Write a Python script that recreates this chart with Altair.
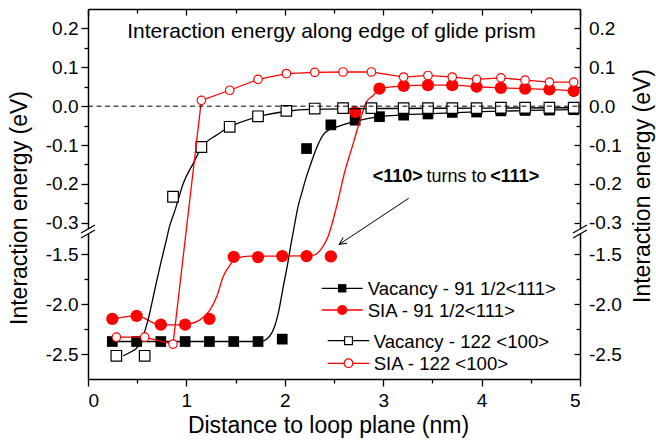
import altair as alt
import pandas as pd

# ---------------- data ----------------
x_91 = [0.247, 0.494, 0.740, 0.987, 1.234, 1.481, 1.728, 1.974, 2.221, 2.468,
        2.715, 2.962, 3.208, 3.455, 3.702, 3.949, 4.196, 4.442, 4.689, 4.936]
vac_91 = [-2.374, -2.374, -2.374, -2.374, -2.374, -2.374, -2.374, -2.350, -0.109, -0.048,
          -0.036, -0.027, -0.023, -0.020, -0.016, -0.015, -0.012, -0.011, -0.010, -0.009]
sia_91 = [-2.147, -2.117, -2.205, -2.205, -2.147, -1.524, -1.527, -1.517, -1.517, -1.520,
          -0.015, 0.045, 0.052, 0.054, 0.054, 0.050, 0.047, 0.045, 0.043, 0.039]

x_122 = [0.288, 0.576, 0.864, 1.152, 1.440, 1.728, 2.016, 2.304, 2.592, 2.880,
         3.208, 3.455, 3.702, 3.949, 4.196, 4.442, 4.689, 4.936]
vac_122 = [-2.517, -2.517, -0.233, -0.105, -0.053, -0.026, -0.012, -0.006, -0.005, -0.005,
           -0.005, -0.005, -0.005, -0.005, -0.004, -0.004, -0.004, -0.004]
sia_122 = [-2.330, -2.330, -2.400, 0.015, 0.041, 0.069, 0.084, 0.087, 0.088, 0.088,
           0.075, 0.079, 0.075, 0.069, 0.073, 0.067, 0.062, 0.062]

# fitted guide curves
fit_vac91_x = [0.247, 0.800, 1.300, 1.700, 1.770, 1.867, 1.934, 1.985, 2.030, 2.063,
               2.099, 2.134, 2.175, 2.215, 2.270, 2.327, 2.390, 2.459, 2.530, 2.700,
               2.962, 3.500, 4.000, 4.500, 4.936]
fit_vac91_v = [-2.374, -2.374, -2.374, -2.374, -2.370, -2.290, -2.090, -1.820, -1.590, -1.397,
               -0.305, -0.259, -0.221, -0.185, -0.144, -0.105, -0.074, -0.059, -0.053, -0.040,
               -0.027, -0.019, -0.014, -0.011, -0.009]

fit_vac122_x = [0.356, 0.424, 0.508, 0.559, 0.610, 0.678, 0.739, 0.796, 0.828, 0.884,
                0.969, 1.070, 1.155, 1.308, 1.443, 1.731, 2.019, 2.256, 3.000, 4.000, 4.936]
fit_vac122_v = [-2.517, -2.484, -2.424, -2.324, -2.157, -1.857, -1.590, -1.357, -0.310, -0.268,
                -0.198, -0.147, -0.106, -0.074, -0.053, -0.027, -0.013, -0.008, -0.006, -0.005, -0.004]

fit_sia91_x = [0.254, 0.490, 0.739, 0.989, 1.037, 1.138, 1.240, 1.308, 1.375, 1.443,
               1.510, 1.650, 2.000, 2.290, 2.375, 2.440, 2.530, 2.610, 2.700, 2.760,
               2.830, 2.900, 2.962, 3.208, 3.455, 3.702, 3.949, 4.196, 4.442, 4.689, 4.936]
fit_sia91_v = [-2.150, -2.117, -2.207, -2.207, -2.197, -2.157, -2.057, -1.924, -1.720, -1.607,
               -1.540, -1.517, -1.517, -1.507, -1.440, -1.320, -0.254, -0.168, -0.092, -0.040,
               0.011, 0.028, 0.045, 0.052, 0.054, 0.054, 0.050, 0.047, 0.045, 0.043, 0.039]

# axis ticks
x_major = [0, 1, 2, 3, 4, 5]
x_minor = [0.5, 1.5, 2.5, 3.5, 4.5]
y_major = [0.2, 0.1, 0.0, -0.1, -0.2, -0.3, -1.5, -2.0, -2.5]
y_major_labels = ["0.2", "0.1", "0.0", "-0.1", "-0.2", "-0.3", "-1.5", "-2.0", "-2.5"]
y_minor = [0.15, 0.05, -0.05, -0.15, -0.25, -1.75, -2.25]

title_text = "Interaction energy along edge of glide prism"
y_title = "Interaction energy (eV)"
x_title = "Distance to loop plane (nm)"
legend_labels = ["Vacancy - 91 1/2<111>", "SIA - 91 1/2<111>",
                 "Vacancy - 122 <100>", "SIA - 122 <100>"]

# ---------------- broken y axis mapping ----------------
TOP_CUT = -0.33
BOT_CUT = -1.30
LOWER_RATIO = 0.2564
Y_MIN, Y_MAX = -2.75, 0.25


def disp(v):
    return v if v >= TOP_CUT else TOP_CUT - (BOT_CUT - v) * LOWER_RATIO


W, H = 492, 370
FONT = "Liberation Sans"
RED = "#ff0000"
BLACK = "#000000"

xsc = alt.Scale(domain=[0, 5], nice=False, zero=False)
ysc = alt.Scale(domain=[disp(Y_MIN), Y_MAX], nice=False, zero=False)


def frame(xs, vs):
    return pd.DataFrame({"x": xs, "v": vs, "d": [disp(v) for v in vs]})


def enc_xy():
    return dict(x=alt.X("x:Q", scale=xsc, axis=None),
                y=alt.Y("d:Q", scale=ysc, axis=None))


def curve(xs, vs, color, interp):
    return alt.Chart(frame(xs, vs)).mark_line(
        color=color, strokeWidth=1.3, interpolate=interp).encode(**enc_xy())


def pts(xs, vs, shape, size, fill, stroke, sw):
    return alt.Chart(frame(xs, vs)).mark_point(
        shape=shape, size=size, filled=True, fill=fill, stroke=stroke,
        strokeWidth=sw, opacity=1).encode(**enc_xy())


def label_expr(vals, labels):
    expr = "''"
    for v, lab in zip(reversed(vals), reversed(labels)):
        expr = f"abs(datum.value - ({disp(v):.6f})) < 0.0005 ? '{lab}' : " + expr
    return expr


ymaj = [round(disp(v), 6) for v in y_major]
ymin = [round(disp(v), 6) for v in y_minor]

carrier_df = pd.DataFrame({"x": [0, 5], "d": [disp(Y_MIN), Y_MAX]})


def carrier(xaxis, yaxis):
    return alt.Chart(carrier_df).mark_point(opacity=0).encode(
        x=alt.X("x:Q", scale=xsc, axis=xaxis),
        y=alt.Y("d:Q", scale=ysc, axis=yaxis))


common = dict(grid=False, tickColor=BLACK, tickWidth=1.3, domainColor=BLACK,
              domainWidth=1.5, labelFont=FONT, labelColor=BLACK, titleFont=FONT,
              titleColor=BLACK, titleFontWeight="normal")

LBL = 19
TTL = 23

ax_bottom = alt.Axis(orient="bottom", values=x_major, format="d", tickSize=7,
                     labelPadding=5, labelFontSize=LBL, domain=True, title=x_title,
                     titleFontSize=TTL, titleX=240, titleY=53.7, titleAlign="center",
                     titleBaseline="alphabetic", **common)
ax_bottom_minor = alt.Axis(orient="bottom", values=x_minor, tickSize=4, labels=False,
                           domain=False, title=None, **common)
ax_top = alt.Axis(orient="bottom", offset=-H, values=x_major, tickSize=6, labels=False,
                  domain=True, title=None, **common)
ax_top_minor = alt.Axis(orient="bottom", offset=-H, values=x_minor, tickSize=4, labels=False,
                        domain=False, title=None, **common)

ax_left = alt.Axis(orient="left", values=ymaj, labelExpr=label_expr(y_major, y_major_labels),
                   tickSize=7, labelPadding=3, labelFontSize=LBL, domain=True, title=y_title,
                   titleFontSize=TTL, titleAngle=270, titleX=-61.3, titleY=198.5,
                   titleAlign="center", titleBaseline="alphabetic", **common)
ax_left_minor = alt.Axis(orient="left", values=ymin, tickSize=4, labels=False, domain=False,
                         title=None, **common)
ax_right_ticks = alt.Axis(orient="left", offset=-W, values=ymaj, tickSize=6, labels=False,
                          domain=True, title=None, **common)
ax_right_minor = alt.Axis(orient="left", offset=-W, values=ymin, tickSize=4, labels=False,
                          domain=False, title=None, **common)
ax_right = alt.Axis(orient="right", values=ymaj, labelExpr=label_expr(y_major, y_major_labels),
                    ticks=False, tickSize=0, labelPadding=8.5, labelFontSize=LBL, domain=False,
                    title=y_title, titleFontSize=TTL, titleAngle=270, titleX=69, titleY=176.5,
                    titleAlign="center", titleBaseline="alphabetic", **common)

layers = [
    carrier(ax_bottom, ax_left),
    carrier(ax_bottom_minor, ax_left_minor),
    carrier(ax_top, ax_right_ticks),
    carrier(ax_top_minor, ax_right_minor),
    carrier(None, ax_right),
]

one = pd.DataFrame({"a": [0]})

# break marks on both vertical axes
BREAK_Y = 222.5
for bx in (0, W):
    layers.append(alt.Chart(one).mark_rule(color="white", strokeWidth=4).encode(
        x=alt.value(bx), x2=alt.value(bx), y=alt.value(BREAK_Y - 2.2), y2=alt.value(BREAK_Y + 2.2)))
    for s in (-2.6, 2.6):
        layers.append(alt.Chart(one).mark_rule(color=BLACK, strokeWidth=1.2).encode(
            x=alt.value(bx - 7), x2=alt.value(bx + 7),
            y=alt.value(BREAK_Y + 4 + s), y2=alt.value(BREAK_Y - 4 + s)))

# data series
layers += [
    curve(fit_vac91_x, fit_vac91_v, BLACK, "monotone"),
    pts(x_91, vac_91, "square", 115, BLACK, BLACK, 0),
    curve(fit_sia91_x, fit_sia91_v, RED, "monotone"),
    pts(x_91, sia_91, "circle", 150, RED, RED, 0),
    curve(fit_vac122_x, fit_vac122_v, BLACK, "monotone"),
    pts(x_122, vac_122, "square", 112, "white", BLACK, 1.2),
    curve(x_122, sia_122, RED, "linear"),
    pts(x_122, sia_122, "circle", 72, "white", RED, 1.2),
]

# dashed zero line
layers.append(alt.Chart(one).mark_rule(color=BLACK, strokeWidth=1, strokeDash=[5, 3.5]).encode(
    x=alt.value(0), x2=alt.value(W),
    y=alt.Y(datum=0, type="quantitative", scale=ysc, axis=None)))

# title inside the plot
layers.append(alt.Chart(one).mark_text(text=title_text, font=FONT, fontSize=21, color=BLACK,
                                       align="center", baseline="alphabetic").encode(
    x=alt.value(243.5), y=alt.value(28.5)))

# annotation
layers += [
    alt.Chart(one).mark_text(text="<110>", font=FONT, fontSize=18, fontWeight="bold",
                             align="left", baseline="alphabetic", color=BLACK).encode(
        x=alt.value(284.7), y=alt.value(172.7)),
    alt.Chart(one).mark_text(text="turns to", font=FONT, fontSize=18,
                             align="center", baseline="alphabetic", color=BLACK).encode(
        x=alt.value(368.5), y=alt.value(172.7)),
    alt.Chart(one).mark_text(text="<111>", font=FONT, fontSize=18, fontWeight="bold",
                             align="right", baseline="alphabetic", color=BLACK).encode(
        x=alt.value(451.3), y=alt.value(172.7)),
    alt.Chart(one).mark_rule(color=BLACK, strokeWidth=1).encode(
        x=alt.value(320.7), x2=alt.value(251.3), y=alt.value(189.3), y2=alt.value(235.3)),
    alt.Chart(one).mark_point(shape="M -1 -0.5 L 0 0 L -1 0.5", size=200, angle=146.5,
                              filled=False, stroke=BLACK, strokeWidth=1, opacity=1).encode(
        x=alt.value(251.3), y=alt.value(235.3)),
]

# legend
legend_rows = [
    (legend_labels[0], BLACK, "square", 70, BLACK, 0, 233.7, 274.7, 279.3, 279.7),
    (legend_labels[1], RED, "circle", 100, RED, 0, 233.7, 274.7, 301.0, 279.7),
    (legend_labels[2], BLACK, "square", 62, "white", 1.2, 239.7, 281.3, 331.7, 285.7),
    (legend_labels[3], RED, "circle", 75, "white", 1.2, 239.7, 281.3, 354.3, 285.7),
]
for lab, col, shp, sz, fil, sw, x0, x1, yy, tx in legend_rows:
    layers += [
        alt.Chart(one).mark_rule(color=col, strokeWidth=1.3).encode(
            x=alt.value(x0), x2=alt.value(x1), y=alt.value(yy), y2=alt.value(yy)),
        alt.Chart(one).mark_point(shape=shp, size=sz, filled=True, fill=fil, stroke=col,
                                  strokeWidth=sw, opacity=1).encode(
            x=alt.value((x0 + x1) / 2), y=alt.value(yy)),
        alt.Chart(one).mark_text(text=lab, font=FONT, fontSize=18.6, color=BLACK,
                                 align="left", baseline="middle").encode(
            x=alt.value(tx), y=alt.value(yy + 1)),
    ]

chart = alt.layer(*layers).resolve_axis(x="independent", y="independent").properties(
    width=W, height=H,
    padding={"left": 88, "top": 9, "right": 76, "bottom": 62},
    autosize=alt.AutoSizeParams(type="none"),
).configure_view(stroke=None)

chart.save("out.html", embed_options={"renderer": "svg", "actions": False})
